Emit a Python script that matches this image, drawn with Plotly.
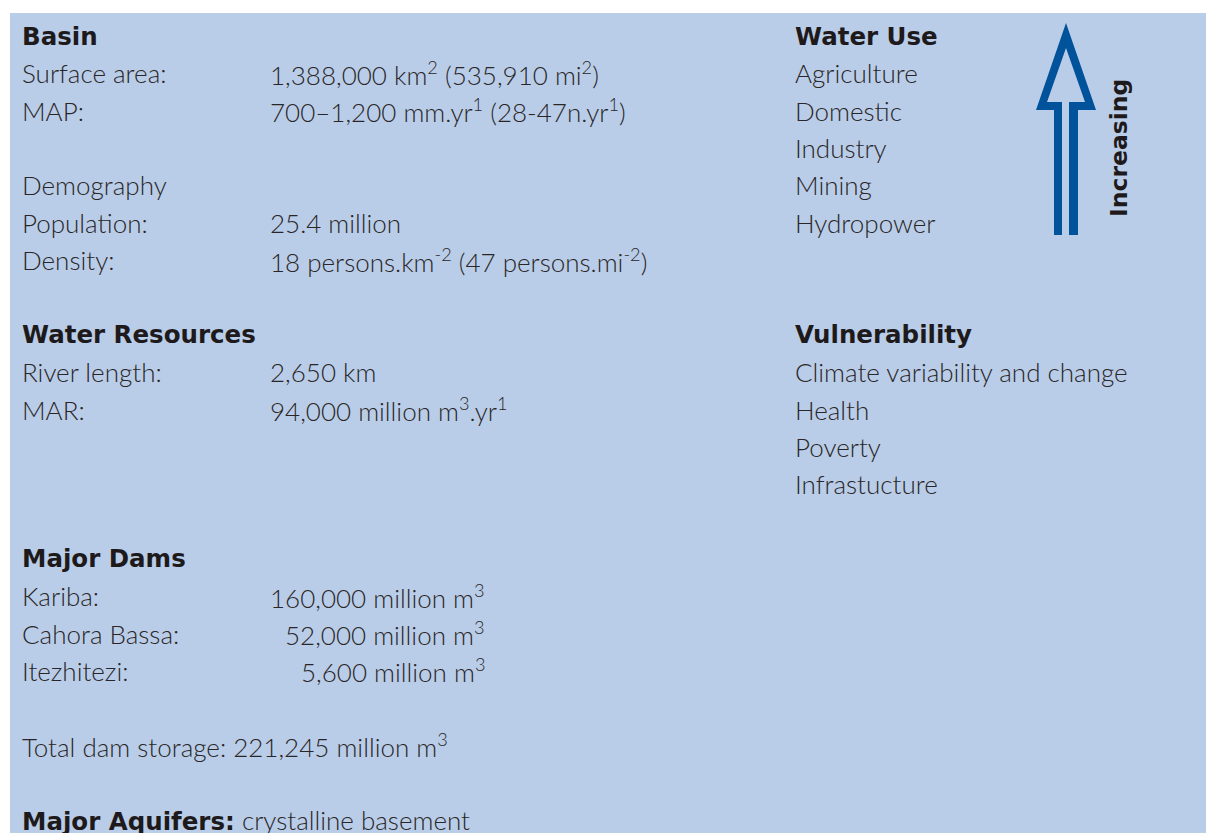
import plotly.graph_objects as go

# ---------------- data ----------------
basin_labels = ["Surface area:", "MAP:"]
basin_values = ["1,388,000 km<sup>2</sup> (535,910 mi<sup>2</sup>)",
                "700–1,200 mm.yr<sup>1</sup> (28-47n.yr<sup>1</sup>)"]
demography_labels = ["Population:", "Density:"]
demography_values = ["25.4 million",
                     "18 persons.km<sup>-2</sup> (47 persons.mi<sup>-2</sup>)"]
water_res_labels = ["River length:", "MAR:"]
water_res_values = ["2,650 km", "94,000 million m<sup>3</sup>.yr<sup>1</sup>"]
dam_names = ["Kariba:", "Cahora Bassa:", "Itezhitezi:"]
dam_storage = [160000, 52000, 5600]          # million m3
total_dam_storage = 221245                   # million m3
aquifers = "crystalline basement"
water_use = ["Agriculture", "Domestic", "Industry", "Mining", "Hydropower"]
vulnerability = ["Climate variability and change", "Health", "Poverty", "Infrastucture"]

# ---------------- layout helpers ----------------
W, H = 1206, 833
ROW0, ROWH = 36, 37.35
XL, XV, XDAM, XR = 20, 268, 487, 793
TXT = "#2a2627"
BODY = dict(family="Lato, 'Open Sans', sans-serif", size=26, color=TXT, weight=300)
HEAD = dict(family="'DejaVu Sans', sans-serif", size=24.5, color="#1e1a1b", weight="bold")

def ry(i):
    return ROW0 + ROWH * i

ann = []
def add(x, row, text, font, xanchor="left"):
    ann.append(dict(x=x, y=ry(row), xref="x", yref="y", text=text, showarrow=False,
                    xanchor=xanchor, yanchor="middle", font=font))

# left column
add(XL, 0, "<b>Basin</b>", HEAD)
for i, (l, v) in enumerate(zip(basin_labels, basin_values)):
    add(XL, 1 + i, l, BODY); add(XV, 1 + i, v, BODY)
add(XL, 4, "Demography", BODY)
for i, (l, v) in enumerate(zip(demography_labels, demography_values)):
    add(XL, 5 + i, l, BODY); add(XV, 5 + i, v, BODY)
add(XL, 8, "<b>Water Resources</b>", HEAD)
for i, (l, v) in enumerate(zip(water_res_labels, water_res_values)):
    add(XL, 9 + i, l, BODY); add(XV, 9 + i, v, BODY)
add(XL, 14, "<b>Major Dams</b>", HEAD)
for i, (n, s) in enumerate(zip(dam_names, dam_storage)):
    add(XL, 15 + i, n, BODY)
    add(XDAM, 15 + i, f"{s:,} million m<sup>3</sup>", BODY, xanchor="right")
add(XL, 19, f"Total dam storage: {total_dam_storage:,} million m<sup>3</sup>", BODY)
ann.append(dict(x=XL, y=ry(21), xref="x", yref="y", showarrow=False, xanchor="left",
                yanchor="middle", font=BODY,
                text=("<span style=\"font-family:'DejaVu Sans';font-weight:bold;"
                      "color:#1e1a1b;font-size:24.5px\">Major Aquifers:</span> " + aquifers)))

# right column
add(XR, 0, "<b>Water Use</b>", HEAD)
for i, w in enumerate(water_use):
    add(XR, 1 + i, w, BODY)
add(XR, 8, "<b>Vulnerability</b>", HEAD)
for i, v in enumerate(vulnerability):
    add(XR, 9 + i, v, BODY)

# "Increasing" label
ann.append(dict(x=1119, y=148, xref="x", yref="y", text="<b>Increasing</b>", showarrow=False,
                textangle=-90, xanchor="center", yanchor="middle",
                font=dict(family="'DejaVu Sans', sans-serif", size=23.5, color="#1e1a1b",
                          weight="bold")))

# hollow arrow and background panel
arrow_path = ("M1054,235 L1054,110 L1036,110 L1066,23 L1096,110 L1078,110 L1078,235 "
              "L1069,235 L1069,102 L1085,102 L1066,48 L1047,102 L1062,102 L1062,235 Z")
shapes = [
    dict(type="rect", xref="x", yref="y", x0=10, x1=W + 5, y0=13, y1=H + 5,
         fillcolor="#B9CDE8", line=dict(width=0), layer="below"),
    dict(type="path", xref="x", yref="y", path=arrow_path, fillcolor="#00529B",
         line=dict(width=0)),
]

fig = go.Figure()
fig.add_trace(go.Scatter(x=[0, W], y=[0, H], mode="markers", marker=dict(opacity=0),
                         hoverinfo="skip", showlegend=False))
fig.update_layout(
    width=W, height=H, margin=dict(l=0, r=0, t=0, b=0),
    paper_bgcolor="white", plot_bgcolor="white",
    xaxis=dict(range=[0, W], visible=False, fixedrange=True),
    yaxis=dict(range=[H, 0], visible=False, fixedrange=True),
    annotations=ann, shapes=shapes, showlegend=False,
)
fig.write_html("out.html", config={"displayModeBar": False},
               post_script="document.body.style.margin='0';document.body.style.overflow='hidden';")
